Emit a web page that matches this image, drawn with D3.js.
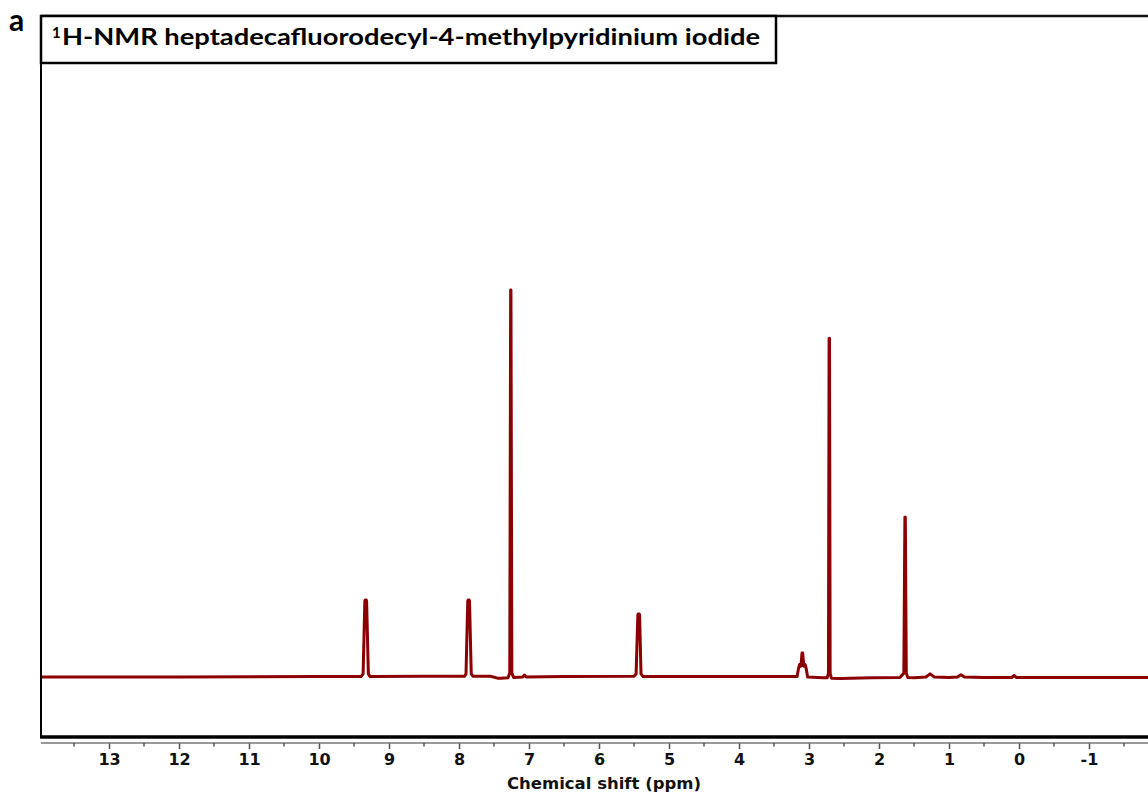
<!DOCTYPE html>
<html>
<head>
<meta charset="utf-8">
<script src="https://cdn.jsdelivr.net/npm/d3@7"></script>
<style>
  html, body { margin: 0; padding: 0; background: #fff; }
  svg { display: block; }
</style>
</head>
<body>
<svg id="chart" width="1148" height="796"></svg>
<script>
// ---- Data ----
const panelLabel = "a";
const titleSup = "1";
const titleMain = "H-NMR heptadecafluorodecyl-4-methylpyridinium iodide";
const xAxisTitle = "Chemical shift (ppm)";
const majorTicks = [13, 12, 11, 10, 9, 8, 7, 6, 5, 4, 3, 2, 1, 0, -1];
const minorTicks = [13.5, 12.5, 11.5, 10.5, 9.5, 8.5, 7.5, 6.5, 5.5, 4.5, 3.5, 2.5, 1.5, 0.5, -0.5, -1.5];

// Spectrum trace: chemical shift (ppm) and relative intensity (CDCl3 = 100)
const shiftPpm = [
  14.2, 12.0, 10.0, 9.40,
  9.37, 9.345, 9.34, 9.325, 9.32, 9.295, 9.27,
  8.5, 7.92,
  7.90, 7.875, 7.87, 7.855, 7.85, 7.825, 7.80,
  7.55, 7.45, 7.40, 7.30,
  7.275, 7.262, 7.258, 7.245, 7.22,
  7.09, 7.065, 7.04, 6.5, 5.50,
  5.47, 5.445, 5.44, 5.425, 5.42, 5.40, 5.37,
  4.5, 3.50, 3.17,
  3.15, 3.135, 3.115, 3.10, 3.09, 3.075, 3.055, 3.04, 3.02,
  2.80, 2.74,
  2.722, 2.713, 2.707, 2.698, 2.68,
  2.55, 2.40, 2.10, 1.70,
  1.645, 1.630, 1.624, 1.610, 1.59,
  1.50, 1.33, 1.27, 1.21, 1.00, 0.88, 0.83, 0.78,
  0.50, 0.10, 0.07, 0.04, -0.5, -1.0, -2.2
];
const intensity = [
  0.0, 0.0, 0.1, 0.1,
  0.8, 19.6, 19.9, 19.9, 19.6, 0.8, 0.1,
  0.2, 0.2,
  0.8, 19.6, 19.9, 19.9, 19.6, 0.8, 0.2,
  0.2, -0.3, -0.3, -0.2,
  1.0, 100.0, 100.0, 1.0, -0.1,
  0.0, 0.5, 0.0, 0.1, 0.2,
  0.8, 16.0, 16.3, 16.3, 16.0, 0.8, 0.1,
  0.1, 0.1, 0.1,
  2.2, 3.2, 2.8, 6.2, 6.2, 2.8, 3.2, 2.2, 0.0,
  -0.2, -0.2,
  1.0, 87.5, 87.5, 1.0, -0.3,
  -0.4, -0.3, -0.2, -0.1,
  1.0, 41.3, 41.3, 1.0, -0.1,
  -0.2, 0.0, 0.8, 0.0, -0.1, 0.0, 0.6, 0.0,
  -0.1, -0.1, 0.4, -0.1, -0.1, -0.1, -0.1
];

// ---- Layout ----
const svg = d3.select("#chart");
const frame = { left: 41, top: 16, right: 1162, bottom: 737 };

const x = d3.scaleLinear().domain([14, -2]).range([39, 1159]);
const y = d3.scaleLinear().domain([0, 100]).range([677, 290]);

// clip for the plotting area
svg.append("defs").append("clipPath").attr("id", "plotclip")
  .append("rect")
  .attr("x", frame.left).attr("y", frame.top)
  .attr("width", frame.right - frame.left).attr("height", frame.bottom - frame.top);

// spectrum
const pts = shiftPpm.map((p, i) => [p, intensity[i]]);
const line = d3.line().x(d => x(d[0])).y(d => y(d[1]));
svg.append("path")
  .attr("clip-path", "url(#plotclip)")
  .attr("d", line(pts))
  .attr("fill", "none")
  .attr("stroke", "#8b0000")
  .attr("stroke-width", 3)
  .attr("stroke-linejoin", "round")
  .attr("stroke-linecap", "round");

// frame (left, top, bottom)
svg.append("line").attr("x1", frame.left).attr("x2", frame.left)
  .attr("y1", frame.top).attr("y2", frame.bottom + 1)
  .attr("stroke", "#000").attr("stroke-width", 2);
svg.append("line").attr("x1", frame.left).attr("x2", 1148)
  .attr("y1", frame.top).attr("y2", frame.top)
  .attr("stroke", "#111").attr("stroke-width", 2.5);
svg.append("line").attr("x1", frame.left - 1).attr("x2", 1148)
  .attr("y1", frame.bottom).attr("y2", frame.bottom)
  .attr("stroke", "#000").attr("stroke-width", 3.5);

// x axis
const axisY = 743;
const axis = d3.axisBottom(x)
  .tickValues(majorTicks)
  .tickFormat(d => String(d))
  .tickSize(6)
  .tickPadding(5);
const gAxis = svg.append("g").attr("transform", `translate(0,${axisY})`).call(axis);
gAxis.select(".domain").remove();
gAxis.selectAll(".tick line").attr("stroke", "#555").attr("stroke-width", 1.5);
gAxis.selectAll(".tick text")
  .attr("font-family", "'DejaVu Sans', Verdana, sans-serif")
  .attr("font-weight", "bold")
  .attr("font-size", 16)
  .attr("fill", "#111");
svg.append("line").attr("x1", frame.left).attr("x2", 1148)
  .attr("y1", axisY).attr("y2", axisY)
  .attr("stroke", "#777").attr("stroke-width", 1.5);
const gMinor = svg.append("g").attr("transform", `translate(0,${axisY})`);
gMinor.selectAll("line").data(minorTicks.filter(v => x(v) > frame.left && x(v) < 1148))
  .enter().append("line")
  .attr("x1", d => x(d)).attr("x2", d => x(d))
  .attr("y1", 0).attr("y2", 3.5)
  .attr("stroke", "#555").attr("stroke-width", 1.5);

svg.append("text")
  .attr("x", 604).attr("y", 789)
  .attr("text-anchor", "middle")
  .attr("font-family", "'DejaVu Sans', Verdana, sans-serif")
  .attr("font-weight", "bold")
  .attr("font-size", 16.5)
  .attr("fill", "#111")
  .text(xAxisTitle);

// panel label
svg.append("text")
  .attr("x", 9).attr("y", 31)
  .attr("font-family", "Lato, 'Open Sans', sans-serif")
  .attr("font-weight", "bold")
  .attr("font-size", 30)
  .attr("fill", "#000")
  .text(panelLabel);

// title box
svg.append("rect")
  .attr("x", 41).attr("y", 16)
  .attr("width", 735).attr("height", 47)
  .attr("fill", "#fff").attr("stroke", "#000").attr("stroke-width", 2.5);
const title = svg.append("text")
  .attr("x", 52).attr("y", 45)
  .attr("font-family", "Lato, 'Open Sans', sans-serif")
  .attr("font-weight", "bold")
  .attr("font-size", 23)
  .attr("fill", "#000");
title.append("tspan").attr("font-size", 15).attr("dy", -7).text(titleSup);
title.append("tspan").attr("x", 62).attr("dy", 7)
  .attr("textLength", 698).attr("lengthAdjust", "spacingAndGlyphs")
  .text(titleMain);
</script>
</body>
</html>
